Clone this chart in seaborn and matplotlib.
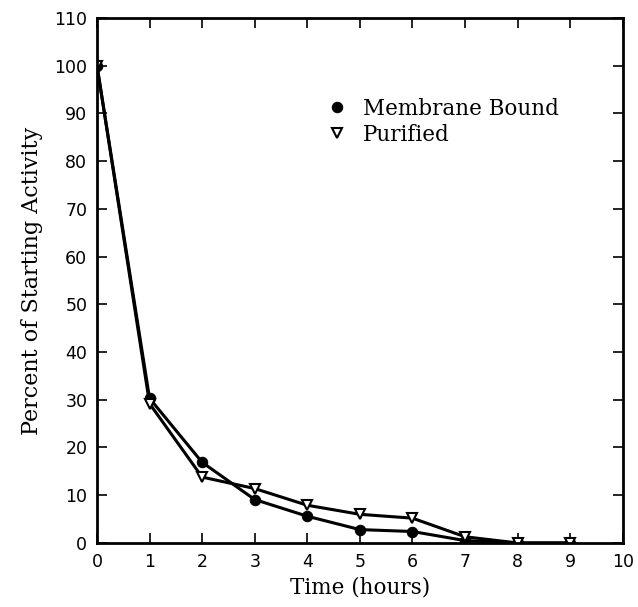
import matplotlib
matplotlib.use("Agg")
import matplotlib.pyplot as plt
import seaborn as sns
import pandas as pd

hours = [0, 1, 2, 3, 4, 5, 6, 7, 8, 9]
membrane_bound = [100, 30.3, 16.9, 9.1, 5.6, 2.8, 2.4, 0.5, 0, 0]
purified = [100, 29.2, 13.8, 11.4, 7.9, 6.0, 5.2, 1.3, 0, 0]
series_names = ["Membrane Bound", "Purified"]

sns.set_style("ticks")
plt.rcParams['font.family'] = ['DejaVu Sans']
plt.rcParams['text.color'] = 'black'
plt.rcParams['axes.labelcolor'] = 'black'
plt.rcParams['xtick.color'] = 'black'
plt.rcParams['ytick.color'] = 'black'

df = pd.DataFrame({
    "hours": hours * 2,
    "value": membrane_bound + purified,
    "series": [series_names[0]] * len(hours) + [series_names[1]] * len(hours),
})

fig = plt.figure(figsize=(6.38, 6.07), dpi=100)
ax = fig.add_axes([0.152, 0.1055, 0.824, 0.865])

sns.lineplot(data=df[df.series == series_names[0]], x="hours", y="value", ax=ax,
             color="black", lw=2.2, marker="o", markersize=7.5,
             markerfacecolor="black", markeredgecolor="black", label=series_names[0])
sns.lineplot(data=df[df.series == series_names[1]], x="hours", y="value", ax=ax,
             color="black", lw=2.2, marker="v", markersize=7.5,
             markerfacecolor="white", markeredgecolor="black", markeredgewidth=1.5,
             label=series_names[1])

ax.set_xlim(0, 10)
ax.set_ylim(0, 110)
ax.set_xticks(range(0, 11))
ax.set_yticks(range(0, 111, 10))
ax.tick_params(direction="in", length=7, width=1.2, top=True, right=True,
               labelsize=12.5, pad=7, colors="black")
for s in ax.spines.values():
    s.set_linewidth(2)
    s.set_color("black")

ax.set_xlabel("Time (hours)", family="DejaVu Serif", fontsize=15.5, labelpad=4)
ax.set_ylabel("Percent of Starting Activity", family="DejaVu Serif", fontsize=16, labelpad=8)

leg = ax.legend(loc="upper left", bbox_to_anchor=(0.40, 0.885), frameon=False,
                prop={"family": "DejaVu Serif", "size": 15.5}, handlelength=1.0,
                handletextpad=0.7, labelspacing=0.18)
for h in leg.legend_handles:
    h.set_linestyle("None")

fig.savefig("out.png", dpi=100)
